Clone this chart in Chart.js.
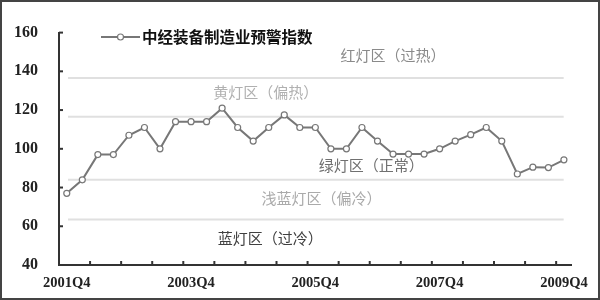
<!DOCTYPE html>
<html><head><meta charset="utf-8">
<script src="https://cdn.jsdelivr.net/npm/chart.js@4/dist/chart.umd.min.js"></script>
<style>
html,body{margin:0;padding:0;background:#fff;}
#wrap{width:600px;height:300px;box-sizing:border-box;border:2px solid #444;background:#fff;}
canvas{display:block;}
</style></head>
<body><div id="wrap"><canvas id="c" width="596" height="296"></canvas></div>
<script>
const categories = ["2001Q4","2002Q1","2002Q2","2002Q3","2002Q4","2003Q1","2003Q2","2003Q3","2003Q4","2004Q1","2004Q2","2004Q3","2004Q4","2005Q1","2005Q2","2005Q3","2005Q4","2006Q1","2006Q2","2006Q3","2006Q4","2007Q1","2007Q2","2007Q3","2007Q4","2008Q1","2008Q2","2008Q3","2008Q4","2009Q1","2009Q2","2009Q3","2009Q4"];
const indexValues = [77,84,97,97,107,111,100,114,114,114,121,111,104,111,117.5,111,111,100,100,111,104,97.3,97.3,97.3,100,104,107.3,111,104,87,90.5,90.3,94.3];
const seriesName = "中经装备制造业预警指数";
const zoneLines = [136.5,116.5,84,63.5];
const zoneNames = ["红灯区（过热）","黄灯区（偏热）","绿灯区（正常）","浅蓝灯区（偏冷）","蓝灯区（过冷）"];
const zoneLabelCat = [21,12.8,19.6,16.4,13.1];
const zoneLabelVal = [148.5,129,91.6,74.6,53.7];
const zoneColors = ["#8a8a8a","#b0b0b0","#707070","#aaaaaa","#404040"];
const yTicks = [40,60,80,100,120,140,160];

const deco = {
  id:'deco',
  beforeDatasetsDraw(chart){
    const {ctx, chartArea:a, scales:{x,y}} = chart;
    ctx.save();
    ctx.strokeStyle = '#e0e0e0'; ctx.lineWidth = 2;
    zoneLines.forEach(v=>{
      const py = y.getPixelForValue(v);
      ctx.beginPath(); ctx.moveTo(a.left+9, py); ctx.lineTo(a.right-8, py); ctx.stroke();
    });
    ctx.font = '15px "Noto Sans CJK SC"';
    ctx.textAlign='center'; ctx.textBaseline='middle';
    zoneNames.forEach((n,i)=>{
      ctx.fillStyle = zoneColors[i];
      const cx = x.left + (zoneLabelCat[i]+0.5)*(x.width/categories.length);
      ctx.fillText(n, cx, y.getPixelForValue(zoneLabelVal[i]));
    });
    ctx.strokeStyle='#333'; ctx.lineWidth=2;
    const w = x.width/categories.length;
    for(let k=2;k<=categories.length;k+=2){
      const px = x.left + k*w;
      ctx.beginPath(); ctx.moveTo(px, a.bottom); ctx.lineTo(px, a.bottom-4); ctx.stroke();
    }
    yTicks.forEach(v=>{
      const py = y.getPixelForValue(v);
      ctx.beginPath(); ctx.moveTo(a.left, py); ctx.lineTo(a.left+4, py); ctx.stroke();
    });
    const ly = 35, lx0 = 99, lx1 = 138;
    ctx.strokeStyle='#777'; ctx.lineWidth=2;
    ctx.beginPath(); ctx.moveTo(lx0, ly); ctx.lineTo(lx1, ly); ctx.stroke();
    ctx.fillStyle='#fff'; ctx.lineWidth=1.2;
    ctx.beginPath(); ctx.arc((lx0+lx1)/2, ly, 3, 0, Math.PI*2); ctx.fill(); ctx.stroke();
    ctx.fillStyle='#111'; ctx.font='bold 15.5px "Noto Sans CJK SC"';
    ctx.textAlign='left';
    ctx.fillText(seriesName, lx1+2, ly);
    ctx.restore();
  }
};

new Chart(document.getElementById('c'), {
  type:'line',
  data:{labels:categories, datasets:[{label:seriesName, data:indexValues,
    borderColor:'#777', borderWidth:2, pointRadius:3, pointBackgroundColor:'#fff',
    pointBorderColor:'#777', pointBorderWidth:1.2, tension:0}]},
  options:{
    responsive:false, animation:false,
    layout:{padding:{top:16,right:21,left:0,bottom:0}},
    plugins:{legend:{display:false}, tooltip:{enabled:false}},
    scales:{
      x:{offset:true,
        grid:{display:false, drawTicks:false},
        border:{display:true,color:'#333',width:2},
        ticks:{autoSkip:false, maxRotation:0, padding:10, color:'#222',
          font:{family:'"Liberation Serif"', weight:'bold', size:14.5},
          callback:(v,i)=> i%8===0 ? categories[i] : ''},
        afterFit:s=>{s.height=33;}
      },
      y:{min:40,max:160,
        grid:{display:false, drawTicks:false},
        border:{display:true,color:'#333',width:2},
        ticks:{stepSize:20, padding:21, color:'#222',
          font:{family:'"Liberation Serif"', weight:'bold', size:16},
          },
        afterFit:s=>{s.width=57;}
      }
    }
  },
  plugins:[deco]
});
</script></body></html>
